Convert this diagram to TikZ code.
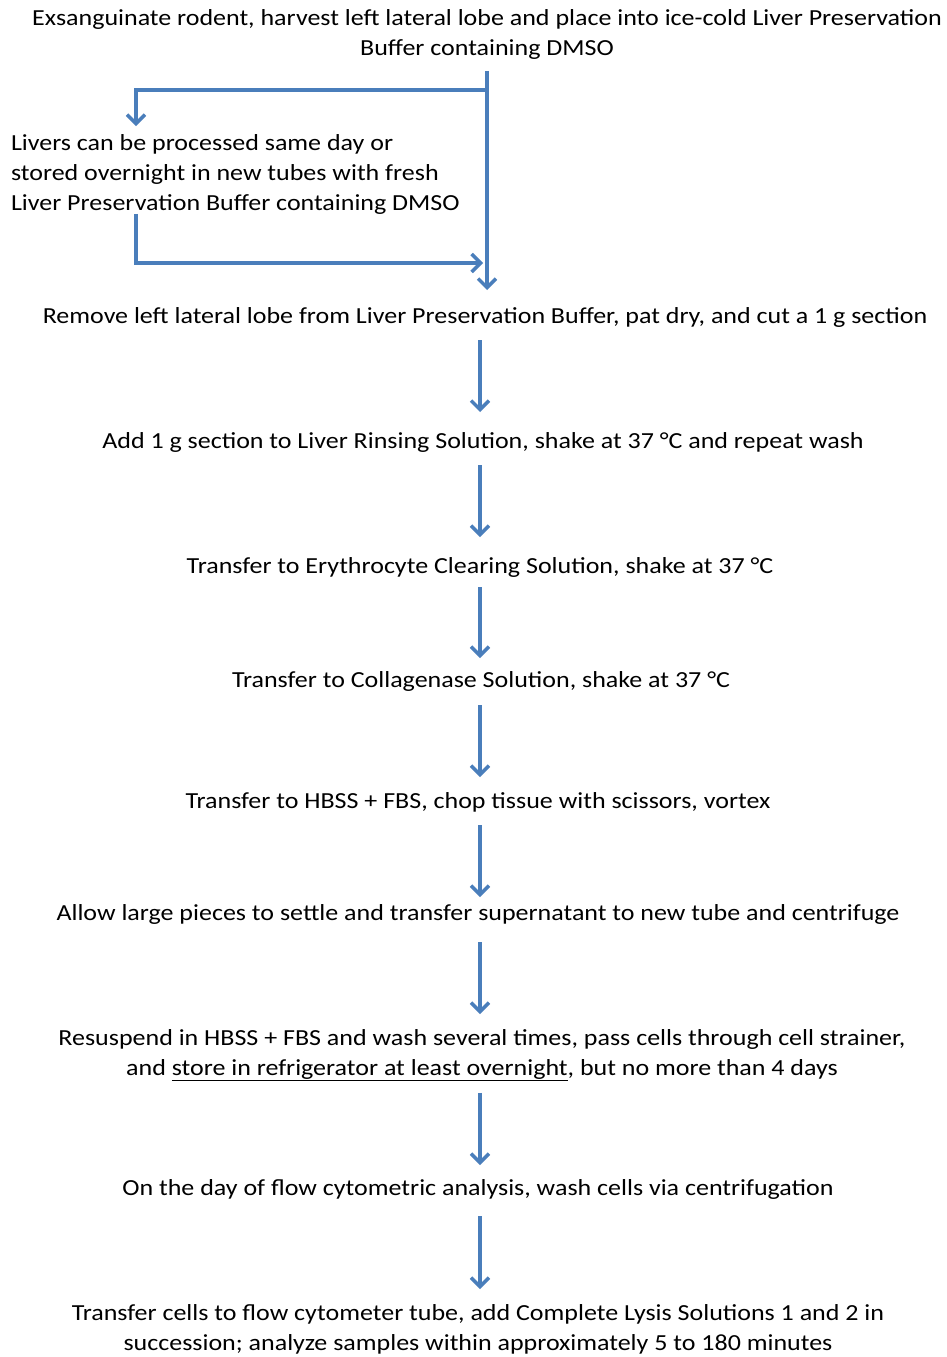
\documentclass[tikz,border=0pt]{standalone}
\usepackage{fontspec}
\setmainfont{Carlito}[FakeStretch=1.13]
\usetikzlibrary{arrows.meta}
\definecolor{arrowblue}{HTML}{4A7EBB}
\begin{document}
\begin{tikzpicture}[x=1pt,y=-1pt,
  txt/.style={font=\fontsize{23}{30}\selectfont, inner sep=0pt, outer sep=0pt, align=center, anchor=base},
  one/.style={text height=17pt, text depth=6pt},
  arr/.style={draw=arrowblue, line width=3.5pt, -{Straight Barb[length=9pt,width=18pt,line width=3.5pt]}},
  every path/.style={line join=miter}]
\useasboundingbox (0,0) rectangle (946,1357);
\fill[white] (0,0) rectangle (946,1357);
\node[txt] (t1) at (487,55) {Exsanguinate rodent, harvest left lateral lobe and place into ice-cold Liver Preservation\\Buffer containing DMSO};
\node[txt, align=left, anchor=base west] (t2) at (11,210) {Livers can be processed same day or\\stored overnight in new tubes with fresh\\Liver Preservation Buffer containing DMSO};
\node[txt,one] (t3) at (485,323) {Remove left lateral lobe from Liver Preservation Buffer, pat dry, and cut a 1 g section};
\node[txt,one] (t4) at (483,448) {Add 1 g section to Liver Rinsing Solution, shake at 37 °C and repeat wash};
\node[txt,one] (t5) at (480,573) {Transfer to Erythrocyte Clearing Solution, shake at 37 °C};
\node[txt,one] (t6) at (481,687) {Transfer to Collagenase Solution, shake at 37 °C};
\node[txt,one] (t7) at (478,808) {Transfer to HBSS + FBS, chop tissue with scissors, vortex};
\node[txt,one] (t8) at (478,920) {Allow large pieces to settle and transfer supernatant to new tube and centrifuge};
\node[txt] (t9) at (482,1075) {Resuspend in HBSS + FBS and wash several times, pass cells through cell strainer,\\and \underline{store in refrigerator at least overnight}, but no more than 4 days};
\node[txt,one] (t10) at (478,1195) {On the day of flow cytometric analysis, wash cells via centrifugation};
\node[txt] (t11) at (478,1350) {Transfer cells to flow cytometer tube, add Complete Lysis Solutions 1 and 2 in\\succession; analyze samples within approximately 5 to 180 minutes};
\coordinate (axisT) at (487,0);
\coordinate (axis) at (480,0);
\coordinate (b1) at (487,90);
\coordinate (b2) at (136,90);
\coordinate (b3) at (136,263);
\draw[arr, shorten <=12pt, shorten >=16pt] (t1.south -| axisT) -- (t3.north -| axisT);
\draw[arr, shorten >=8pt] (b1) -- (b2) -- (t2.north -| b2);
\draw[arr, shorten >=4pt] (t2.south -| b3) -- (b3) -- (b3 -| axisT);
\draw[arr, shorten <=11pt, shorten >=19pt] (t3.south -| axis) -- (t4.north -| axis);
\draw[arr, shorten <=11pt, shorten >=19pt] (t4.south -| axis) -- (t5.north -| axis);
\draw[arr, shorten <=8pt, shorten >=12pt] (t5.south -| axis) -- (t6.north -| axis);
\draw[arr, shorten <=12pt, shorten >=14pt] (t6.south -| axis) -- (t7.north -| axis);
\draw[arr, shorten <=11pt, shorten >=6pt] (t7.south -| axis) -- (t8.north -| axis);
\draw[arr, shorten <=16pt, shorten >=15pt] (t8.south -| axis) -- (t9.north -| axis);
\draw[arr, shorten <=12pt, shorten >=13pt] (t9.south -| axis) -- (t10.north -| axis);
\draw[arr, shorten <=15pt, shorten >=15pt] (t10.south -| axis) -- (t11.north -| axis);
\end{tikzpicture}
\end{document}
